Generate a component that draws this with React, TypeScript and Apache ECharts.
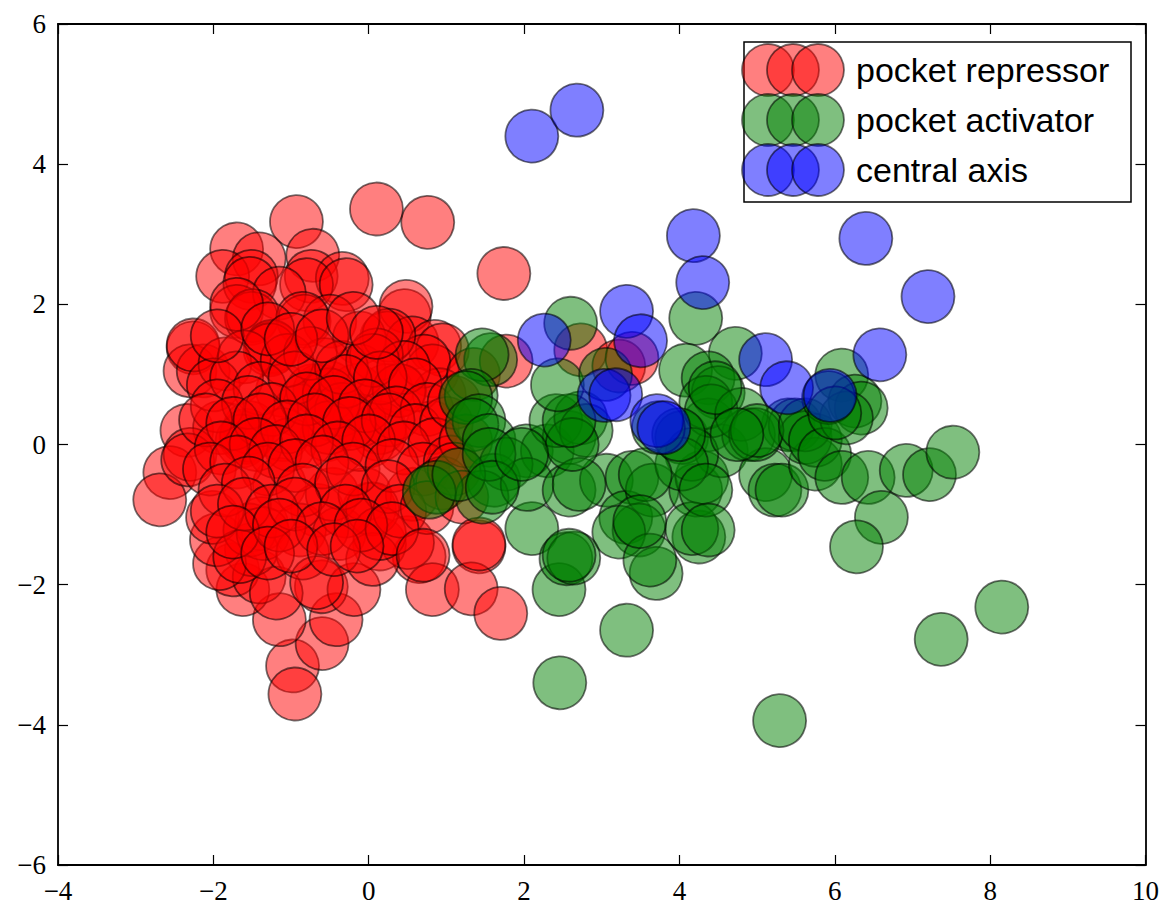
import React, { useEffect, useRef } from "react";
import * as echarts from "echarts";

const xTicks = { min: -4, max: 10, interval: 2 };
const yTicks = { min: -6, max: 6, interval: 2 };

const seriesNames = ["pocket repressor", "pocket activator", "central axis"];

const repressor: number[][] = [
  [0.10, 3.36], [0.76, 3.17], [-0.93, 3.18], [1.74, 2.44], [-1.70, 2.79], [-0.72, 2.70],
  [-1.41, 2.65], [-1.88, 2.40], [-1.51, 2.40], [-0.74, 2.40], [-0.34, 2.37], [-1.53, 2.30],
  [-0.80, 2.28], [-0.29, 2.28], [-1.70, 1.90], [-1.15, 2.16], [-0.83, 1.76], [-0.50, 1.76],
  [-1.51, 1.80], [-1.49, 1.84], [-0.85, 1.80], [0.46, 1.84], [0.48, 1.97], [0.23, 1.52],
  [0.56, 1.45], [0.85, 1.40], [0.95, 1.35], [0.82, 1.05], [0.23, 0.77], [-2.26, 1.38],
  [-2.30, 1.05], [-2.13, 1.05], [-1.24, 1.38], [-1.25, 1.40], [-1.27, 1.35], [-1.11, 0.77],
  [-0.63, 0.77], [-0.51, 0.81], [-0.16, 0.77], [0.40, 0.77], [-1.58, 0.10], [-0.54, 0.14],
  [0.14, 0.14], [0.14, 0.24], [-2.34, 0.20], [-2.56, -0.40], [0.91, 0.71], [0.82, 0.24],
  [-0.89, 0.48], [-1.70, 2.00], [-2.26, 1.42], [-0.72, 0.77], [-0.12, 1.52], [-0.12, 1.05],
  [-0.47, 0.43], [-0.12, 0.34], [-1.53, 0.24], [-1.11, 0.14], [-1.92, 0.24], [-2.30, -0.14],
  [0.71, 1.19], [0.26, 1.56], [0.10, 1.28], [0.39, 0.77], [-0.57, 1.14], [-0.51, 0.71],
  [-0.35, 0.50], [-2.69, -0.79], [-2.33, -0.22], [-1.15, -0.57], [-1.57, 0.13],
  [-0.66, -0.94], [0.01, -0.92], [-0.98, -3.16], [-0.95, -3.56], [-0.60, -2.84], [-0.42, -2.50],
  [-0.61, -2.03], [-0.19, -2.07], [-1.15, -2.50], [-1.62, -2.07], [-1.75, -1.79], [-1.41, -1.89],
  [-1.19, -2.12], [0.65, -1.60], [0.82, -2.07], [1.42, -1.46], [1.32, -2.06], [1.70, -2.41],
  [0.14, -1.42], [0.50, -1.40], [-1.51, -1.50], [-1.92, -1.70], [-1.96, -1.36], [-2.01, -1.04],
  [-1.38, -1.13], [-0.89, -1.22], [-0.38, -1.27], [-0.47, -0.71], [-0.05, -0.71], [0.56, -0.71],
  [-1.53, -1.22], [-1.36, -1.27], [0.05, -0.92], [-0.85, -1.55], [-1.66, -1.60], [-0.67, -1.97],
  [0.05, -1.64], [0.14, -1.27], [-0.12, 0.00], [-1.02, 0.00], [-1.63, 0.05], [-0.51, 0.24],
  [-1.85, 1.15], [-1.60, 1.25], [-1.05, 1.20], [-0.75, 1.30], [-0.35, 1.10], [0.05, 1.20], [0.45, 1.10],
  [-2.00, 0.85], [-1.70, 0.95], [-1.40, 0.80], [-0.95, 0.95], [-0.30, 0.90], [0.15, 0.95], [0.60, 0.85],
  [-1.95, 0.55], [-1.55, 0.60], [-1.25, 0.50], [-0.80, 0.65], [-0.45, 0.60], [-0.05, 0.55], [0.35, 0.45], [0.75, 0.50],
  [-2.10, 0.35], [-1.75, 0.30], [-1.40, 0.35], [-1.05, 0.25], [-0.70, 0.35], [-0.25, 0.30], [0.25, 0.35], [0.60, 0.20], [1.00, 0.30],
  [-1.90, -0.05], [-1.45, 0.00], [-1.20, -0.10], [-0.80, 0.05], [-0.40, -0.05], [0.00, 0.05], [0.45, -0.05], [0.85, 0.00],
  [-2.05, -0.35], [-1.70, -0.25], [-1.30, -0.35], [-0.95, -0.30], [-0.60, -0.25], [-0.20, -0.35], [0.30, -0.30], [0.70, -0.35], [1.05, -0.25],
  [-1.85, -0.65], [-1.55, -0.55], [-0.85, -0.65], [-0.35, -0.55], [0.25, -0.60], [0.95, -0.55],
  [-1.95, -0.95], [-1.60, -0.85], [-1.25, -0.95], [-0.95, -0.85], [-0.30, -0.95], [0.40, -0.95], [0.75, -0.90],
  [-1.75, -1.25], [-1.15, -1.15], [-0.60, -1.20], [-0.10, -1.15], [0.30, -1.20],
  [-1.30, -1.55], [-1.00, -1.45], [-0.45, -1.50], [-0.15, -1.45],
  [-1.95, 1.55], [-1.30, 1.65], [-1.00, 1.50], [-0.60, 1.55], [-0.20, 1.80], [0.10, 1.60],
  [1.10, 0.60], [1.25, 0.05], [1.10, -0.35], [1.20, -0.75], [1.35, 1.00], [1.77, 1.19],
  [2.73, 1.35], [3.22, 1.12], [3.39, 1.23], [1.42, -1.42], [0.70, -1.58],
];

const activator: number[][] = [
  [2.60, 1.73], [4.21, 1.80], [4.72, 1.30], [1.57, 1.21], [1.46, 1.28], [4.08, 1.06],
  [4.37, 0.95], [4.50, 0.74], [5.40, 0.28], [1.32, 0.70], [1.25, 0.67], [1.42, 0.34],
  [1.33, 0.28], [1.55, 0.06], [2.03, -0.09], [2.30, -0.09], [2.58, 0.10], [2.41, 0.34],
  [2.73, 0.38], [2.80, 0.20], [1.61, -0.51], [1.77, -0.28], [1.46, -0.75], [0.87, -0.61],
  [0.78, -0.68], [2.10, -1.20], [2.04, -0.57], [2.58, -0.65], [3.06, -0.51], [3.39, -0.47],
  [3.31, -1.04], [3.65, -0.65], [3.48, -1.22], [4.25, -1.32], [4.21, -0.65],
  [4.29, -0.47], [4.03, 0.10], [4.37, 0.28], [4.54, -0.09], [4.89, 0.14], [5.11, -0.43],
  [5.23, -0.65], [5.49, 0.28], [4.34, 0.60], [4.41, 0.48], [4.80, 0.43], [4.98, 0.14],
  [5.32, -0.65], [5.75, -0.28], [5.62, 0.10], [4.16, -0.14], [4.03, -0.28], [3.56, -0.43],
  [2.71, -0.57], [2.62, 0.00], [2.58, 0.34], [3.22, -1.25], [4.16, -1.20],
  [3.99, 0.14], [4.46, 0.81],
  [3.73, 0.24], [5.00, 0.20], [4.74, 0.14], [5.62, 0.28], [5.75, 0.06], [5.87, -0.14],
  [6.09, -0.47], [6.43, -0.47], [6.09, 0.99], [6.26, 0.62], [6.34, 0.52], [6.15, 0.38],
  [6.92, -0.37], [7.22, -0.43], [7.52, -0.11], [6.60, -1.04], [6.28, -1.46], [4.34, -0.65],
  [4.37, -1.22], [2.46, -3.40], [5.29, -3.94], [7.37, -2.78], [8.15, -2.32], [3.32, -2.65],
  [2.45, -2.07], [2.54, -1.63], [2.64, -1.62], [2.58, -1.58], [3.70, -1.84], [3.62, -1.65],
  [3.49, -1.10], [1.16, -0.43], [1.55, -0.14],
  [1.59, -0.61], [1.97, -0.14], [2.43, 0.85], [3.05, 1.00], [5.92, 0.67], [6.00, 0.45],
];

const centralAxis: number[][] = [
  [2.10, 4.40], [2.68, 4.77], [4.18, 2.98], [4.30, 2.31], [6.40, 2.94], [7.20, 2.11],
  [3.32, 1.90], [3.50, 1.48], [2.26, 1.49], [5.11, 1.21], [6.58, 1.28], [5.38, 0.81],
  [5.94, 0.70], [3.03, 0.70], [3.18, 0.71], [3.71, 0.34], [3.80, 0.24],
];

const fills = ["rgba(255,0,0,0.5)", "rgba(0,128,0,0.5)", "rgba(0,0,255,0.5)"];
const edge = "rgba(0,0,0,0.55)";

const fmt = (v: number) => String(v).replace("-", "\u2212");

export default function App() {
  const ref = useRef<HTMLDivElement>(null);
  useEffect(() => {
    if (!ref.current) return;
    const chart = echarts.init(ref.current, undefined, { renderer: "svg" });
    const axisCommon = {
      axisLine: { show: true, onZero: false, lineStyle: { color: "#000", width: 1.8 } },
      axisTick: { show: true, inside: true, length: 10, lineStyle: { color: "#000", width: 1.2 } },
      splitLine: { show: false },
    };
    const labelStyle = {
      color: "#000",
      fontFamily: "Liberation Serif, serif",
      fontSize: 27,
      formatter: fmt,
    };
    const legendX = 744;
    const legendY = 42;
    const rowY = [70, 120, 170];
    const circX = [768, 793, 818];
    const legendGraphics: any[] = [
      {
        type: "rect",
        shape: { x: legendX, y: legendY, width: 387, height: 160 },
        style: { fill: "#fff", stroke: "#000", lineWidth: 1.5 },
        z: 100,
      },
    ];
    seriesNames.forEach((name, i) => {
      circX.forEach((cx) => {
        legendGraphics.push({
          type: "circle",
          shape: { cx, cy: rowY[i], r: 26 },
          style: { fill: fills[i], stroke: edge, lineWidth: 1.8 },
          z: 101,
        });
      });
      legendGraphics.push({
        type: "text",
        x: 856,
        y: rowY[i],
        style: {
          text: name,
          fill: "#000",
          fontFamily: "Liberation Sans, Arial, sans-serif",
          fontSize: 34,
          verticalAlign: "middle",
          align: "left",
        },
        z: 102,
      });
    });
    const datasets = [repressor, activator, centralAxis];
    chart.setOption({
      animation: false,
      backgroundColor: "#fff",
      grid: { left: 58, top: 24, width: 1090, height: 846, containLabel: false },
      xAxis: [
        { type: "value", position: "bottom", ...xTicks, ...axisCommon, axisLabel: { ...labelStyle, margin: 12 } },
        { type: "value", position: "top", ...xTicks, ...axisCommon, axisLabel: { show: false } },
      ],
      yAxis: [
        { type: "value", position: "left", ...yTicks, ...axisCommon, axisLabel: { ...labelStyle, margin: 12 } },
        { type: "value", position: "right", ...yTicks, ...axisCommon, axisLabel: { show: false } },
      ],
      series: datasets.map((d, i) => ({
        name: seriesNames[i],
        type: "scatter",
        data: d,
        symbol: "circle",
        symbolSize: 53,
        xAxisIndex: 0,
        yAxisIndex: 0,
        z: 2 + i,
        itemStyle: { color: fills[i], borderColor: edge, borderWidth: 1.8, opacity: 1 },
      })),
      graphic: legendGraphics,
    });
    return () => chart.dispose();
  }, []);
  return (
    <div
      ref={ref}
      style={{ position: "absolute", left: 0, top: 0, width: 1162, height: 904 }}
    />
  );
}
